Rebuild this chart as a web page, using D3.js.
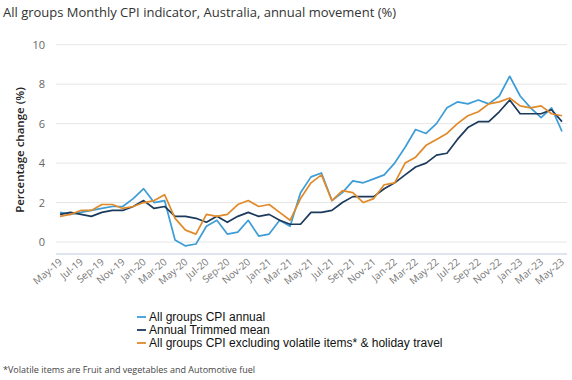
<!DOCTYPE html>
<html>
<head>
<meta charset="utf-8">
<script src="https://cdnjs.cloudflare.com/ajax/libs/d3/7.8.5/d3.min.js"></script>
<style>
  body { margin: 0; background: #fff; }
  svg { display: block; font-family: "Open Sans", sans-serif; }
</style>
</head>
<body>
<svg width="572" height="380"></svg>
<script>
// monthly labels, May-19 .. May-23
var months = ["May-19","Jun-19","Jul-19","Aug-19","Sep-19","Oct-19","Nov-19","Dec-19",
  "Jan-20","Feb-20","Mar-20","Apr-20","May-20","Jun-20","Jul-20","Aug-20","Sep-20","Oct-20","Nov-20","Dec-20",
  "Jan-21","Feb-21","Mar-21","Apr-21","May-21","Jun-21","Jul-21","Aug-21","Sep-21","Oct-21","Nov-21","Dec-21",
  "Jan-22","Feb-22","Mar-22","Apr-22","May-22","Jun-22","Jul-22","Aug-22","Sep-22","Oct-22","Nov-22","Dec-22",
  "Jan-23","Feb-23","Mar-23","Apr-23","May-23"];

var cpiAnnual = [1.5,1.4,1.5,1.6,1.7,1.8,1.8,2.2,
  2.7,2.0,2.1,0.1,-0.2,-0.1,0.8,1.1,0.4,0.5,1.1,0.3,
  0.4,1.1,0.8,2.5,3.3,3.5,2.1,2.5,3.1,3.0,3.2,3.4,
  4.0,4.8,5.7,5.5,6.0,6.8,7.1,7.0,7.2,7.0,7.4,8.4,
  7.4,6.8,6.3,6.8,5.6];

var trimmedMean = [1.4,1.5,1.4,1.3,1.5,1.6,1.6,1.8,
  2.1,1.7,1.8,1.3,1.3,1.2,1.0,1.3,1.0,1.3,1.5,1.3,
  1.4,1.1,0.9,0.9,1.5,1.5,1.6,2.0,2.3,2.3,2.3,2.7,
  3.0,3.4,3.8,4.0,4.4,4.5,5.2,5.8,6.1,6.1,6.6,7.2,
  6.5,6.5,6.5,6.7,6.1];

var exVolatile = [1.3,1.4,1.6,1.6,1.9,1.9,1.7,1.8,
  2.0,2.1,2.4,1.2,0.6,0.4,1.4,1.3,1.4,1.9,2.1,1.8,
  1.9,1.5,1.1,2.2,3.0,3.4,2.1,2.6,2.5,2.0,2.2,2.9,
  3.0,4.0,4.3,4.9,5.2,5.5,6.0,6.4,6.6,7.0,7.1,7.3,
  6.9,6.8,6.9,6.5,6.4];

var yTicks = [0, 2, 4, 6, 8, 10];

var seriesNames = ["All groups CPI annual", "Annual Trimmed mean",
  "All groups CPI excluding volatile items* & holiday travel"];
var seriesColors = ["#3d9dd6", "#1b3a5c", "#e08a2a"];
var seriesData = [cpiAnnual, trimmedMean, exVolatile];

var svg = d3.select("svg");
var plotLeft = 56, plotRight = 567, plotTop = 44.7, zeroY = 242, plotBottom = 254;

var x = d3.scalePoint().domain(d3.range(months.length)).range([60, 562]);
var y = d3.scaleLinear().domain([0, 10]).range([zeroY, plotTop]);

// title
svg.append("text")
  .attr("x", 3).attr("y", 17)
  .attr("font-size", "13px")
  .attr("fill", "#333")
  .text("All groups Monthly CPI indicator, Australia, annual movement (%)");

// gridlines
svg.append("g").selectAll("line")
  .data(yTicks).enter().append("line")
  .attr("x1", plotLeft).attr("x2", plotRight)
  .attr("y1", function(d) { return y(d); })
  .attr("y2", function(d) { return y(d); })
  .attr("stroke", "#e6e6e6").attr("stroke-width", 1);

// y tick labels
svg.append("g").selectAll("text")
  .data(yTicks).enter().append("text")
  .attr("x", 45)
  .attr("y", function(d) { return y(d) + 4; })
  .attr("text-anchor", "end")
  .attr("font-size", "11px")
  .attr("fill", "#666")
  .text(function(d) { return d; });

// y axis title
svg.append("text")
  .attr("transform", "translate(24,150) rotate(-90)")
  .attr("text-anchor", "middle")
  .attr("font-size", "11.5px")
  .attr("font-weight", 600)
  .attr("fill", "#222")
  .text("Percentage change (%)");

// x axis line
svg.append("line")
  .attr("x1", plotLeft).attr("x2", plotRight)
  .attr("y1", plotBottom).attr("y2", plotBottom)
  .attr("stroke", "#dfe5ee").attr("stroke-width", 2);

// x tick labels every second month
svg.append("g").selectAll("text")
  .data(d3.range(0, months.length, 2)).enter().append("text")
  .attr("transform", function(i) { return "translate(" + (x(i) + 3) + "," + (plotBottom + 9) + ") rotate(-40)"; })
  .attr("text-anchor", "end")
  .attr("font-size", "10px")
  .attr("fill", "#777")
  .text(function(i) { return months[i]; });

// lines
var line = d3.line()
  .x(function(d, i) { return x(i); })
  .y(function(d) { return y(d); });

svg.append("g").selectAll("path")
  .data(seriesData).enter().append("path")
  .attr("d", line)
  .attr("fill", "none")
  .attr("stroke", function(d, i) { return seriesColors[i]; })
  .attr("stroke-width", 1.7)
  .attr("stroke-linejoin", "round");

// legend
var lg = svg.append("g").selectAll("g")
  .data(seriesNames).enter().append("g")
  .attr("transform", function(d, i) { return "translate(137," + (317 + i * 13) + ")"; });
lg.append("line")
  .attr("x1", 0).attr("x2", 9).attr("y1", 0).attr("y2", 0)
  .attr("stroke", function(d, i) { return seriesColors[i]; })
  .attr("stroke-width", 1.8);
lg.append("text")
  .attr("x", 12).attr("y", 4)
  .attr("font-family", "'Liberation Sans', Arial, sans-serif")
  .attr("font-size", "12px")
  .attr("fill", "#111")
  .text(function(d) { return d; });

// footnote
svg.append("text")
  .attr("x", 3).attr("y", 373)
  .attr("font-size", "9px")
  .attr("fill", "#444")
  .text("*Volatile items are Fruit and vegetables and Automotive fuel");
</script>
</body>
</html>
